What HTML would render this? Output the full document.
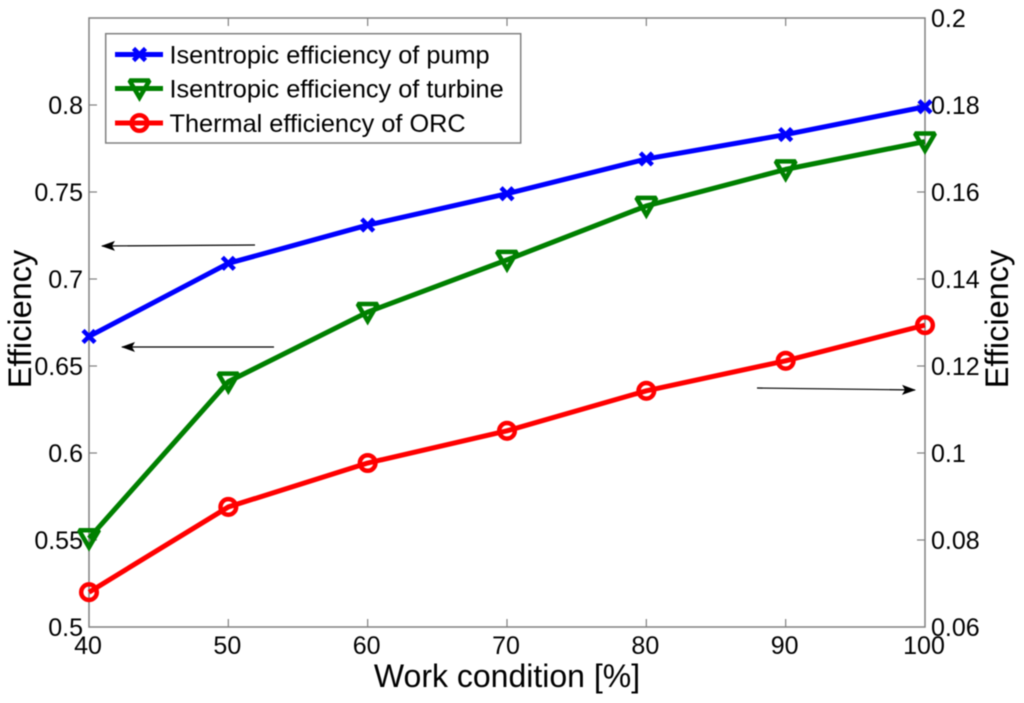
<!DOCTYPE html>
<html><head><meta charset="utf-8"><title>Efficiency vs work condition</title>
<style>
html,body{margin:0;padding:0;background:#fff;width:1024px;height:703px;overflow:hidden}
svg{display:block;font-family:"Liberation Sans",Arial,sans-serif;filter:blur(0.45px)}
</style></head>
<body>
<svg id="chart" xmlns="http://www.w3.org/2000/svg" width="1024" height="703" viewBox="0 0 1024 703"></svg>
<script>
const categories = [40, 50, 60, 70, 80, 90, 100];
const pumpEfficiency = [0.667, 0.709, 0.731, 0.749, 0.769, 0.783, 0.799];
const turbineEfficiency = [0.551, 0.641, 0.681, 0.711, 0.742, 0.763, 0.779];
const thermalEfficiency = [0.068, 0.0876, 0.0977, 0.1051, 0.1143, 0.1212, 0.1294];
const leftTicks = [0.5, 0.55, 0.6, 0.65, 0.7, 0.75, 0.8];
const rightTicks = [0.06, 0.08, 0.1, 0.12, 0.14, 0.16, 0.18, 0.2];

const NS = 'http://www.w3.org/2000/svg';
const svg = document.getElementById('chart');
const L = 89, R = 925, T = 18, B = 627;
const xS = v => L + (v - 40) / 60 * (R - L);
const yL = v => B - (v - 0.5) / 0.35 * (B - T);
const yR = v => B - (v - 0.06) / 0.14 * (B - T);
function mk(tag, attrs, parent) {
  const e = document.createElementNS(NS, tag);
  for (const k in attrs) e.setAttribute(k, attrs[k]);
  (parent || svg).appendChild(e);
  return e;
}
const AX = '#808080';
const INK = '#000';

const frame = mk('rect', {x: L, y: T, width: R - L, height: B - T, fill: '#fff', stroke: AX, 'stroke-width': 1.5});



categories.forEach(c => {
  const x = xS(c);
  const g = mk('g', {});
  
  
  if (c !== 40 && c !== 100) {
    mk('line', {x1: x, x2: x, y1: B, y2: B - 8, stroke: AX, 'stroke-width': 1.2}, g);
    mk('line', {x1: x, x2: x, y1: T, y2: T + 8, stroke: AX, 'stroke-width': 1.2}, g);
  }
  const t = mk('text', {x: x - 1, y: 654, 'text-anchor': 'middle', 'font-size': 25, fill: INK}, g);
  t.textContent = c;
});

leftTicks.forEach(v => {
  const y = yL(v);
  const g = mk('g', {});
  
  
  if (v !== 0.5) mk('line', {x1: L, x2: L + 8, y1: y, y2: y, stroke: AX, 'stroke-width': 1.2}, g);
  const t = mk('text', {x: 83, y: y + 9, 'text-anchor': 'end', 'font-size': 25, fill: INK}, g);
  t.textContent = v;
});

rightTicks.forEach(v => {
  const y = yR(v);
  const g = mk('g', {});
  
  
  if (v !== 0.06 && v !== 0.2) mk('line', {x1: R, x2: R - 8, y1: y, y2: y, stroke: AX, 'stroke-width': 1.2}, g);
  const t = mk('text', {x: 931, y: y + 9, 'text-anchor': 'start', 'font-size': 25, fill: INK}, g);
  t.textContent = v;
});

const xTitle = mk('text', {x: 507, y: 687, 'text-anchor': 'middle', 'font-size': 32, fill: INK});
xTitle.textContent = 'Work condition [%]';



const yTitleL = mk('text', {transform: 'translate(31,319) rotate(-90)', 'text-anchor': 'middle', 'font-size': 32.5, fill: INK});
yTitleL.textContent = 'Efficiency';



const yTitleR = mk('text', {transform: 'translate(1008,319) rotate(-90)', 'text-anchor': 'middle', 'font-size': 32.5, fill: INK});
yTitleR.textContent = 'Efficiency';



function cross(p, x, y, c, s) {
  mk('path', {d: `M${x-s} ${y-s}L${x+s} ${y+s}M${x-s} ${y+s}L${x+s} ${y-s}`, stroke: c, 'stroke-width': 4.5, fill: 'none'}, p);
}
function tri(p, x, y, c) {
  mk('path', {d: `M${x-10} ${y-8}H${x+10}L${x} ${y+9}Z`, stroke: c, 'stroke-width': 4.5, fill: 'none', 'stroke-linejoin': 'miter', 'stroke-miterlimit': 2}, p);
}
function circ(p, x, y, c) {
  mk('circle', {cx: x, cy: y, r: 7.8, stroke: c, 'stroke-width': 4.5, fill: 'none'}, p);
}

function series(name, vals, yFn, color, marker) {
  const g = mk('g', {});
  
  
  const pts = vals.map((v, i) => xS(categories[i]) + ',' + yFn(v)).join(' ');
  mk('polyline', {points: pts, fill: 'none', stroke: color, 'stroke-width': 5, 'stroke-linejoin': 'round'}, g);
  vals.forEach((v, i) => marker(g, xS(categories[i]), yFn(v), color, 6));
}
series('pump-efficiency-series', pumpEfficiency, yL, '#0000ff', cross);
series('turbine-efficiency-series', turbineEfficiency, yL, '#008000', tri);
series('thermal-efficiency-series', thermalEfficiency, yR, '#ff0000', circ);

const defs = mk('defs', {});
const mrk = mk('marker', {id: 'ah', markerUnits: 'userSpaceOnUse', markerWidth: 14, markerHeight: 10, refX: 13, refY: 5, orient: 'auto'}, defs);
mk('path', {d: 'M0 0L14 5L0 10L3 5Z', fill: '#000'}, mrk);

[['arrow-pump-left', 255, 245, 102, 246], ['arrow-turbine-left', 274, 347, 122, 347], ['arrow-thermal-right', 757, 388, 915, 390]].forEach(a => {
  const l = mk('line', {x1: a[1], y1: a[2], x2: a[3], y2: a[4], stroke: '#000', 'stroke-width': 1.2, 'marker-end': 'url(#ah)'});
  
  
});

const legend = mk('g', {});


mk('rect', {x: 105.7, y: 33.7, width: 415, height: 109.3, fill: '#fff', stroke: AX, 'stroke-width': 1.5}, legend);
[['Isentropic efficiency of pump', '#0000ff', cross, 54.5], ['Isentropic efficiency of turbine', '#008000', tri, 88.5], ['Thermal efficiency of ORC', '#ff0000', circ, 123]].forEach(r => {
  const e = mk('g', {}, legend);
  
  
  mk('line', {x1: 115, x2: 163, y1: r[3], y2: r[3], stroke: r[1], 'stroke-width': 5}, e);
  r[2](e, 139.5, r[3], r[1], 6);
  const t = mk('text', {x: 169.5, y: r[3] + 9, 'font-size': 25.3, fill: INK}, e);
  t.textContent = r[0];
});
</script>
</body></html>
